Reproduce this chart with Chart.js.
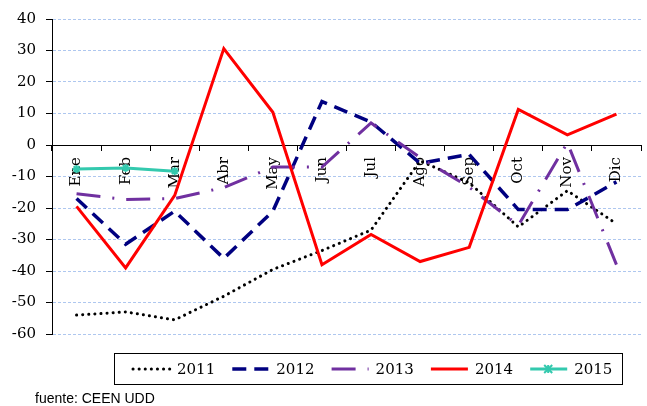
<!DOCTYPE html>
<html>
<head>
<meta charset="utf-8">
<script src="https://cdn.jsdelivr.net/npm/chart.js@4"></script>
<style>
  html, body { margin: 0; padding: 0; background: #fff; }
  #wrap { width: 647px; height: 406px; position: relative; }
</style>
</head>
<body>
<div id="wrap"><canvas id="myChart"></canvas></div>
<script>
const months = ["Ene", "Feb", "Mar", "Abr", "May", "Jun", "Jul", "Ago", "Sep", "Oct", "Nov", "Dic"];
const seriesNames = ["2011", "2012", "2013", "2014", "2015"];
const v2011 = [-54, -53, -55.5, -48, -39.5, -33.5, -27, -5, -12, -26, -14.5, -25];
const v2012 = [-17, -31.5, -21, -36, -21, 13.8, 7.3, -5.8, -3, -20.5, -20.5, -11.7];
const v2013 = [-15.5, -17.3, -17, -13.5, -7, -7, 7, -4, -13.4, -25.5, 0.7, -38];
const v2014 = [-19.5, -39, -16, 30.6, 10.4, -38, -28.4, -37, -32.5, 11.3, 3.2, 9.8];
const v2015 = [-7.6, -7.3, -8.3];
const yMin = -60;
const yMax = 40;
const yStep = 10;

const serif = "'DejaVu Serif', serif";

// legend box + source note, drawn by hand like the original sheet
const legendBox = {
  id: "legendBox",
  afterDraw: (chart) => {
    const { ctx } = chart;
    ctx.save();
    ctx.strokeStyle = "#000";
    ctx.lineWidth = 1;
    ctx.setLineDash([]);
    ctx.strokeRect(114.5, 353.5, 508, 31);
    const y = 369;
    chart.data.datasets.forEach((ds, i) => {
      const x = 133 + i * 99.3;
      ctx.save();
      ctx.strokeStyle = ds.borderColor;
      ctx.lineWidth = ds.borderWidth;
      ctx.lineCap = ds.borderCapStyle || "butt";
      ctx.setLineDash(ds.borderDash || []);
      ctx.beginPath();
      ctx.moveTo(x, y);
      ctx.lineTo(x + 37, y);
      ctx.stroke();
      ctx.restore();
      if (ds.pointStyle === "star") {
        const cx = x + 18, r = 4;
        ctx.save();
        ctx.strokeStyle = ds.borderColor;
        ctx.lineWidth = 2;
        ctx.beginPath();
        ctx.moveTo(cx - r, y - r); ctx.lineTo(cx + r, y + r);
        ctx.moveTo(cx - r, y + r); ctx.lineTo(cx + r, y - r);
        ctx.moveTo(cx, y - r); ctx.lineTo(cx, y + r);
        ctx.stroke();
        ctx.restore();
      }
      ctx.fillStyle = "#000";
      ctx.font = "15px " + serif;
      ctx.textBaseline = "middle";
      ctx.textAlign = "left";
      ctx.fillText(ds.label, x + 44, y + 1);
    });
    ctx.font = "14px 'Liberation Sans', sans-serif";
    ctx.fillText("fuente: CEEN UDD", 35, 399);
    ctx.restore();
  },
};

const ctx = document.getElementById("myChart").getContext("2d");
new Chart(ctx, {
  type: "line",
  data: {
    labels: months,
    datasets: [
      {
        label: seriesNames[0],
        data: v2011,
        borderColor: "#000000",
        borderWidth: 3,
        borderDash: [0.1, 6],
        borderCapStyle: "round",
        pointRadius: 0,
        order: 5,
      },
      {
        label: seriesNames[1],
        data: v2012,
        borderColor: "#000080",
        borderWidth: 3.5,
        borderDash: [14, 8],
        pointRadius: 0,
        order: 4,
      },
      {
        label: seriesNames[2],
        data: v2013,
        borderColor: "#7030a0",
        borderWidth: 3,
        borderDash: [24, 12, 2, 12],
        pointRadius: 0,
        order: 3,
      },
      {
        label: seriesNames[3],
        data: v2014,
        borderColor: "#ff0000",
        borderWidth: 3,
        pointRadius: 0,
        order: 2,
      },
      {
        label: seriesNames[4],
        data: v2015,
        borderColor: "#33c9ae",
        borderWidth: 3,
        pointStyle: "star",
        pointRadius: 4,
        pointBorderWidth: 2,
        pointBorderColor: "#33c9ae",
        order: 1,
      },
    ],
  },
  plugins: [legendBox],
  options: {
    responsive: true,
    maintainAspectRatio: false,
    animation: false,
    layout: {
      padding: { top: 18, right: 0, bottom: 72, left: 0 },
    },
    scales: {
      x: {
        position: { y: 0 },
        offset: true,
        grid: {
          offset: true,
          drawOnChartArea: false,
          tickLength: 5,
          color: "#000",
        },
        border: { color: "#000", width: 1 },
        ticks: {
          autoSkip: false,
          minRotation: 90,
          maxRotation: 90,
          padding: 7,
          color: "#000",
          font: { family: serif, size: 15 },
        },
      },
      y: {
        min: yMin,
        max: yMax,
        afterFit: (scale) => {
          scale.width = 52;
        },
        ticks: {
          stepSize: yStep,
          padding: 10,
          color: "#000",
          font: { family: serif, size: 15 },
        },
        grid: {
          color: (c) => (c.tick && c.tick.value === 0 ? "rgba(0,0,0,0)" : "#aec7ef"),
          tickColor: "#000",
          tickLength: 6,
          lineWidth: 1,
        },
        border: { color: "#000", width: 1, dash: [3, 2] },
      },
    },
    plugins: {
      legend: { display: false },
      tooltip: { enabled: false },
    },
  },
});
</script>
</body>
</html>
